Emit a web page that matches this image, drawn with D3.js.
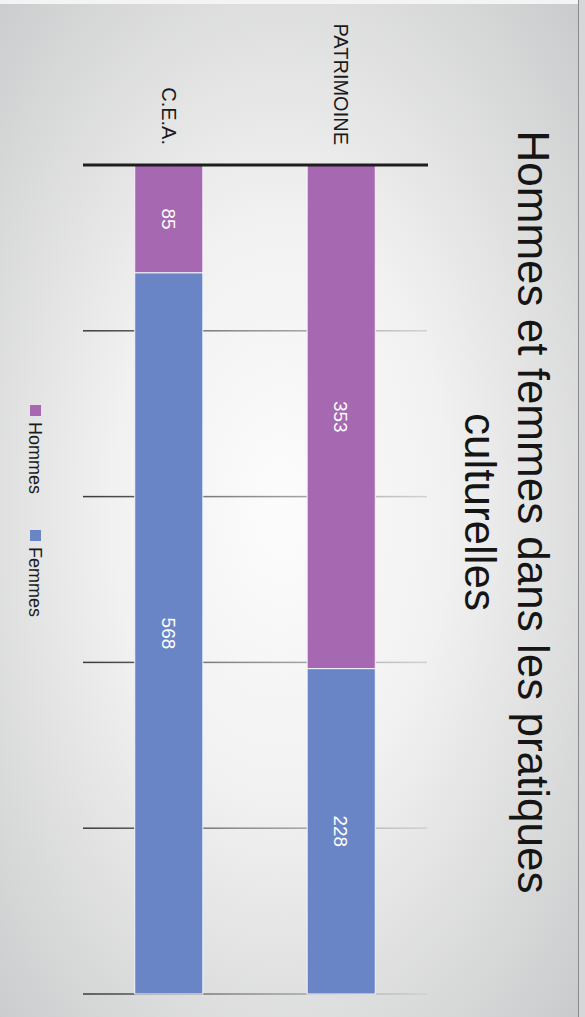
<!DOCTYPE html>
<html>
<head>
<meta charset="utf-8">
<script src="https://cdn.jsdelivr.net/npm/d3@7"></script>
<style>
  html, body { margin: 0; padding: 0; background: #dcdcdc; }
  svg { display: block; }
  text { font-family: "Liberation Sans", Arial, Helvetica, sans-serif; }
</style>
</head>
<body>
<svg id="chart" width="585" height="1017"></svg>
<script>
// Data
const categories = ["PATRIMOINE", "C.E.A."];
const series = ["Hommes", "Femmes"];
const hommes = [353, 85];
const femmes = [228, 568];
const tickValues = [0, 0.2, 0.4, 0.6, 0.8, 1];
const titleLines = ["Hommes et femmes dans les pratiques", "culturelles"];
const colors = { Hommes: "#a668b0", Femmes: "#6a85c6" };

const W = 585, H = 1017;
const svg = d3.select("#chart");
const defs = svg.append("defs");

// Paper background with soft vignette
const bg = defs.append("radialGradient").attr("id", "paper")
  .attr("cx", "0.48").attr("cy", "0.5").attr("r", "0.72");
bg.append("stop").attr("offset", "0").attr("stop-color", "#fcfcfc");
bg.append("stop").attr("offset", "0.4").attr("stop-color", "#f1f1f1");
bg.append("stop").attr("offset", "1").attr("stop-color", "#c9cacb");
svg.append("rect").attr("width", W).attr("height", H).attr("fill", "url(#paper)");
svg.append("rect").attr("x", 0).attr("y", 0).attr("width", W).attr("height", 4).attr("fill", "#f4f4f4");
svg.append("rect").attr("x", 579).attr("y", 0).attr("width", 6).attr("height", H).attr("fill", "#d6d7d8");
svg.append("line").attr("x1", 578.5).attr("x2", 578.5).attr("y1", 0).attr("y2", H)
  .attr("stroke", "#8a8a8a").attr("stroke-width", 1);

// The chart is laid out horizontally, then turned a quarter turn clockwise
const g = svg.append("g").attr("transform", `translate(${W},0) rotate(90)`);

// Stacked 100% data
const rows = categories.map((c, i) => ({ cat: c, Hommes: hommes[i], Femmes: femmes[i] }));
const stacked = d3.stack().keys(series).offset(d3.stackOffsetExpand)(rows);

const x = d3.scaleLinear().domain([0, 1]).range([165, 994]);
const y = d3.scaleBand().domain(categories).range([158, 502]).paddingInner(0.605).paddingOuter(0.3);

// Gridlines fade from dark (category side) to light
const gridGrad = defs.append("linearGradient").attr("id", "gridfade")
  .attr("gradientUnits", "userSpaceOnUse")
  .attr("x1", 0).attr("y1", 502).attr("x2", 0).attr("y2", 158);
gridGrad.append("stop").attr("offset", "0").attr("stop-color", "#3a3a3a");
gridGrad.append("stop").attr("offset", "0.45").attr("stop-color", "#8a8a8a");
gridGrad.append("stop").attr("offset", "1").attr("stop-color", "#d0d0d0");

g.append("g").selectAll("rect.grid")
  .data(tickValues.slice(1))
  .join("rect")
  .attr("x", d => x(d) - 0.75)
  .attr("width", 1.5)
  .attr("y", 158)
  .attr("height", 344)
  .attr("fill", "url(#gridfade)");

// Bars
const layers = g.append("g").selectAll("g.layer")
  .data(stacked)
  .join("g")
  .attr("fill", d => colors[d.key]);

layers.selectAll("rect")
  .data(d => d.map(p => ({ key: d.key, cat: p.data.cat, x0: p[0], x1: p[1], value: p.data[d.key] })))
  .join("rect")
  .attr("x", d => x(d.x0))
  .attr("width", d => x(d.x1) - x(d.x0))
  .attr("y", d => y(d.cat))
  .attr("height", y.bandwidth())
  .attr("stroke", "#f4f4fa")
  .attr("stroke-width", 1);

// Value labels
layers.selectAll("text")
  .data(d => d.map(p => ({ cat: p.data.cat, x0: p[0], x1: p[1], value: p.data[d.key] })))
  .join("text")
  .attr("x", d => x((d.x0 + d.x1) / 2))
  .attr("y", d => y(d.cat) + y.bandwidth() / 2)
  .attr("dy", "0.36em")
  .attr("text-anchor", "middle")
  .attr("font-size", 19)
  .attr("fill", "#ffffff")
  .text(d => d.value);

// Baseline (category axis)
g.append("line")
  .attr("x1", x(0)).attr("x2", x(0))
  .attr("y1", 157).attr("y2", 502)
  .attr("stroke", "#1e1e1e").attr("stroke-width", 3);

// Category labels
g.append("g").selectAll("text")
  .data(categories)
  .join("text")
  .attr("x", 145)
  .attr("y", d => y(d) + y.bandwidth() / 2)
  .attr("dy", "0.36em")
  .attr("text-anchor", "end")
  .attr("font-size", 20)
  .attr("fill", "#1a1a1a")
  .text(d => d);

// Title
g.append("g").selectAll("text")
  .data(titleLines)
  .join("text")
  .attr("x", 512)
  .attr("y", (d, i) => 67 + i * 53)
  .attr("text-anchor", "middle")
  .attr("font-size", 44)
  .attr("fill", "#151515")
  .text(d => d);

// Legend
const legendX = [405, 530];
const legend = g.append("g").selectAll("g")
  .data(series)
  .join("g")
  .attr("transform", (d, i) => `translate(${legendX[i]},556)`);
legend.append("rect")
  .attr("x", 0).attr("y", -12).attr("width", 11).attr("height", 11)
  .attr("fill", d => colors[d]);
legend.append("text")
  .attr("x", 17).attr("y", 0)
  .attr("font-size", 18)
  .attr("fill", "#1a1a1a")
  .text(d => d);
</script>
</body>
</html>
